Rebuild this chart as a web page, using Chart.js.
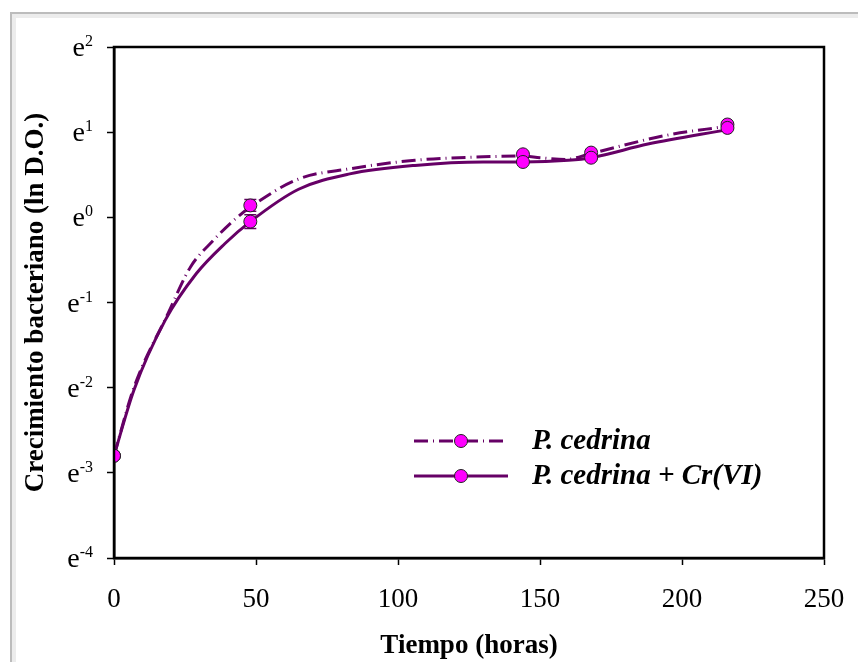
<!DOCTYPE html>
<html>
<head>
<meta charset="utf-8">
<script src="https://cdn.jsdelivr.net/npm/chart.js@4.4.0/dist/chart.umd.min.js"></script>
<style>
  html, body { margin: 0; padding: 0; background: #fff; }
  #wrap { position: relative; width: 858px; height: 662px; }
</style>
</head>
<body>
<div id="wrap"><canvas id="growthChart" width="858" height="662"></canvas></div>
<script>
// measured points (hours, ln D.O.)
const sampleHours = [0, 48, 144, 168, 216];
const cedrinaLn = [-2.80, 0.14, 0.74, 0.76, 1.09];
const cedrinaCrLn = [-2.80, -0.05, 0.65, 0.70, 1.05];
const cedrinaErr = [0, 0.07, 0.02, 0.02, 0.02];
const cedrinaCrErr = [0, 0.08, 0.02, 0.02, 0.02];

// fitted curves
const curveHoursA = [0, 7, 19, 27, 35, 42, 48, 65, 83, 106, 130, 144, 150, 159, 168, 194, 216];
const curveCedrina = [-2.80, -2.00, -1.13, -0.58, -0.27, -0.04, 0.12, 0.45, 0.57, 0.67, 0.71, 0.72, 0.70, 0.68, 0.75, 0.96, 1.07];
const curveHoursB = [0, 7, 18, 29, 39, 48, 65, 83, 106, 130, 144, 160, 168, 188, 216];
const curveCedrinaCr = [-2.80, -2.03, -1.21, -0.66, -0.31, -0.05, 0.33, 0.51, 0.61, 0.65, 0.65, 0.67, 0.70, 0.86, 1.03];

// y ticks: e^n
const yTickValues = [-4, -3, -2, -1, 0, 1, 2];
const yTickExp = ['-4', '-3', '-2', '-1', '0', '1', '2'];

const legendNames = ['P. cedrina', 'P. cedrina + Cr(VI)'];

const lineColor = '#660066';
const markColor = '#FF00FF';
const serif = "'Liberation Serif', 'Times New Roman', serif";
const dashPattern = [14, 5, 1, 5];

function pts(xs, ys) {
  return xs.map((x, i) => ({ x: x, y: ys[i] }));
}

const framePlugin = {
  id: 'frame',
  beforeDraw(chart) {
    const c = chart.ctx;
    c.save();
    c.strokeStyle = '#ececec';
    c.lineWidth = 4;
    c.beginPath();
    c.moveTo(14, 662); c.lineTo(14, 16); c.lineTo(858, 16);
    c.stroke();
    c.strokeStyle = '#bcbcbc';
    c.lineWidth = 2;
    c.beginPath();
    c.moveTo(11, 662); c.lineTo(11, 13); c.lineTo(858, 13);
    c.stroke();
    c.restore();
  },
  afterDraw(chart) {
    const a = chart.chartArea;
    const c = chart.ctx;
    c.save();
    c.strokeStyle = '#000';
    c.lineWidth = 2.5;
    c.strokeRect(a.left, a.top, a.right - a.left, a.bottom - a.top);
    c.restore();
  }
};

// "e" with raised exponent, right edge at a fixed x
const yLabelPlugin = {
  id: 'yLabels',
  afterDraw(chart) {
    const c = chart.ctx;
    const ys = chart.scales.y;
    const right = 93;
    c.save();
    c.fillStyle = '#000';
    c.textBaseline = 'alphabetic';
    yTickValues.forEach((v, i) => {
      const py = ys.getPixelForValue(v);
      c.font = '16px ' + serif;
      const ew = c.measureText(yTickExp[i]).width;
      c.textAlign = 'left';
      c.fillText(yTickExp[i], right - ew, py - 1);
      c.font = '28px ' + serif;
      c.textAlign = 'right';
      c.fillText('e', right - ew, py + 9);
    });
    c.restore();
  }
};

const errorBarPlugin = {
  id: 'errorBars',
  beforeDatasetsDraw(chart) {
    const c = chart.ctx;
    const xs = chart.scales.x, ys = chart.scales.y;
    const sets = [[cedrinaLn, cedrinaErr], [cedrinaCrLn, cedrinaCrErr]];
    c.save();
    c.strokeStyle = lineColor;
    c.lineWidth = 1.5;
    sets.forEach(([vals, errs]) => {
      sampleHours.forEach((h, i) => {
        if (!errs[i]) return;
        const px = xs.getPixelForValue(h);
        const top = ys.getPixelForValue(vals[i] + errs[i]);
        const bot = ys.getPixelForValue(vals[i] - errs[i]);
        c.beginPath();
        c.moveTo(px, top); c.lineTo(px, bot);
        c.moveTo(px - 6, top); c.lineTo(px + 6, top);
        c.moveTo(px - 6, bot); c.lineTo(px + 6, bot);
        c.stroke();
      });
    });
    c.restore();
  }
};

const legendPlugin = {
  id: 'inLegend',
  afterDraw(chart) {
    const c = chart.ctx;
    const rows = [441, 476];
    c.save();
    rows.forEach((y, i) => {
      c.strokeStyle = lineColor;
      c.lineWidth = 3;
      c.setLineDash(i === 0 ? dashPattern : []);
      c.beginPath();
      c.moveTo(414, y); c.lineTo(508, y);
      c.stroke();
      c.setLineDash([]);
      c.beginPath();
      c.arc(461, y, 6.5, 0, Math.PI * 2);
      c.fillStyle = markColor;
      c.fill();
      c.lineWidth = 1;
      c.strokeStyle = '#222';
      c.stroke();
      c.fillStyle = '#000';
      c.font = "italic bold 29px " + serif;
      c.textBaseline = 'middle';
      c.fillText(legendNames[i], 532, y + 1);
    });
    c.restore();
  }
};

window.onload = () => {
  const ctx = document.getElementById('growthChart');
  new Chart(ctx, {
    type: 'scatter',
    data: {
      datasets: [
        {
          label: legendNames[0] + ' (curva)',
          data: pts(curveHoursA, curveCedrina),
          showLine: true,
          borderColor: lineColor,
          borderWidth: 3,
          borderDash: dashPattern,
          pointRadius: 0,
          cubicInterpolationMode: 'monotone',
          order: 2
        },
        {
          label: legendNames[1] + ' (curva)',
          data: pts(curveHoursB, curveCedrinaCr),
          showLine: true,
          borderColor: lineColor,
          borderWidth: 3,
          pointRadius: 0,
          cubicInterpolationMode: 'monotone',
          order: 2
        },
        {
          label: legendNames[0],
          data: pts(sampleHours, cedrinaLn),
          showLine: false,
          pointRadius: 6.5,
          pointBackgroundColor: markColor,
          pointBorderColor: '#222',
          pointBorderWidth: 1,
          order: 1
        },
        {
          label: legendNames[1],
          data: pts(sampleHours, cedrinaCrLn),
          showLine: false,
          pointRadius: 6.5,
          pointBackgroundColor: markColor,
          pointBorderColor: '#222',
          pointBorderWidth: 1,
          order: 0
        }
      ]
    },
    options: {
      responsive: false,
      animation: false,
      layout: { padding: { top: 47, right: 34, left: 10, bottom: 0 } },
      plugins: {
        legend: { display: false },
        tooltip: { enabled: false }
      },
      scales: {
        x: {
          type: 'linear',
          min: 0,
          max: 250,
          ticks: { stepSize: 50, color: '#000', padding: 19, font: { family: serif, size: 27 } },
          grid: { drawOnChartArea: false, drawTicks: true, tickLength: 7, tickColor: '#000', tickWidth: 1.5 },
          border: { color: '#000', width: 2.5 },
          title: { display: true, text: 'Tiempo (horas)', color: '#000', padding: { top: 4, bottom: 0 }, font: { family: serif, size: 27, weight: 'bold' } },
          afterFit(scale) {
            scale.height = 104;
            scale.paddingLeft = 0;
            scale.paddingRight = 0;
          }
        },
        y: {
          type: 'linear',
          min: -4,
          max: 2,
          afterBuildTicks(scale) { scale.ticks = yTickValues.map(v => ({ value: v })); },
          ticks: { display: false },
          grid: { drawOnChartArea: false, drawTicks: true, tickLength: 7, tickColor: '#000', tickWidth: 1.5 },
          border: { color: '#000', width: 2.5 },
          title: { display: true, text: 'Crecimiento bacteriano (ln D.O.)', color: '#000', padding: { top: 10, bottom: 0 }, font: { family: serif, size: 27, weight: 'bold' } },
          afterFit(scale) {
            scale.width = 104;
            scale.paddingTop = 0;
            scale.paddingBottom = 0;
          }
        }
      }
    },
    plugins: [framePlugin, errorBarPlugin, yLabelPlugin, legendPlugin]
  });
};
</script>
</body>
</html>
